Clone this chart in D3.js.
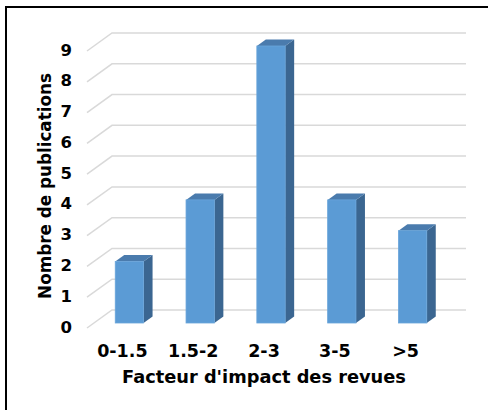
<!DOCTYPE html>
<html>
<head>
<meta charset="utf-8">
<script src="https://d3js.org/d3.v7.min.js"></script>
<style>
body { margin: 0; background: #fff; }
text { font-family: "DejaVu Sans", Verdana, sans-serif; font-weight: bold; fill: #000; }
</style>
</head>
<body>
<div id="chart"></div>
<script>
// data
var categories = ["0-1.5", "1.5-2", "2-3", "3-5", ">5"];
var values = [2, 4, 9, 4, 3];
var yTicks = [0, 1, 2, 3, 4, 5, 6, 7, 8, 9];

var W = 488, H = 410;

// depth offsets of the 3D box (back wall relative to front plane)
var depth = {dx: 25, dy: -18};
var barFront = {dx: 7, dy: -5};
var barBack = {dx: 16, dy: -11.5};

var svg = d3.select("#chart")
  .append("svg")
    .attr("width", W)
    .attr("height", H);

// outer frame
svg.append("rect")
  .attr("x", 6).attr("y", 7)
  .attr("width", 520).attr("height", 440)
  .attr("fill", "none")
  .attr("stroke", "#000")
  .attr("stroke-width", 2);

// scales on the front plane
var x = d3.scaleBand()
  .domain(categories)
  .range([87, 441]);

var y = d3.scaleLinear()
  .domain([0, 9])
  .range([328, 51]);

// gridlines: diagonal on the left wall + horizontal on the back wall
var grid = svg.append("g");
yTicks.forEach(function(t) {
  var yf = y(t);
  grid.append("path")
    .attr("d", "M" + x.range()[0] + "," + yf +
               "L" + (x.range()[0] + depth.dx) + "," + (yf + depth.dy) +
               "L" + (x.range()[1] + depth.dx) + "," + (yf + depth.dy))
    .attr("fill", "none")
    .attr("stroke", "#d9d9d9")
    .attr("stroke-width", 1.5);
});

// y axis labels
svg.append("g").selectAll("text")
  .data(yTicks)
  .enter()
  .append("text")
    .attr("x", 72)
    .attr("y", function(d) { return y(d); })
    .attr("text-anchor", "end")
    .attr("dominant-baseline", "middle")
    .style("font-size", "16.5px")
    .text(function(d) { return d; });

// bars
var bw = x.bandwidth() * 0.4;
var bars = svg.append("g");
categories.forEach(function(c, i) {
  var cx = x(c) + x.bandwidth() / 2;
  var x0 = cx - bw / 2 + barFront.dx, x1 = cx + bw / 2 + barFront.dx;
  var yb = y(0) + barFront.dy, yt = y(values[i]) + barFront.dy;
  var ddx = barBack.dx - barFront.dx, ddy = barBack.dy - barFront.dy;

  // side face
  bars.append("path")
    .attr("d", "M" + x1 + "," + yb + "L" + (x1 + ddx) + "," + (yb + ddy) +
               "L" + (x1 + ddx) + "," + (yt + ddy) + "L" + x1 + "," + yt + "Z")
    .attr("fill", "#3b6691");
  // top face
  bars.append("path")
    .attr("d", "M" + x0 + "," + yt + "L" + x1 + "," + yt +
               "L" + (x1 + ddx) + "," + (yt + ddy) + "L" + (x0 + ddx) + "," + (yt + ddy) + "Z")
    .attr("fill", "#4a7bad");
  // front face
  bars.append("rect")
    .attr("x", x0)
    .attr("y", yt)
    .attr("width", bw)
    .attr("height", yb - yt)
    .attr("fill", "#5b9bd5")
    .attr("stroke", "#6aa5da")
    .attr("stroke-width", 0.8);
});

// category labels
svg.append("g").selectAll("text")
  .data(categories)
  .enter()
  .append("text")
    .attr("x", function(d) { return x(d) + x.bandwidth() / 2; })
    .attr("y", 357)
    .attr("text-anchor", "middle")
    .style("font-size", "17.5px")
    .text(function(d) { return d; });

// axis titles
svg.append("text")
  .attr("x", (x.range()[0] + x.range()[1]) / 2)
  .attr("y", 383)
  .attr("text-anchor", "middle")
  .style("font-size", "17.8px")
  .text("Facteur d'impact des revues");

svg.append("text")
  .attr("transform", "translate(51,186) rotate(-90)")
  .attr("text-anchor", "middle")
  .style("font-size", "16.8px")
  .text("Nombre de publications");
</script>
</body>
</html>
